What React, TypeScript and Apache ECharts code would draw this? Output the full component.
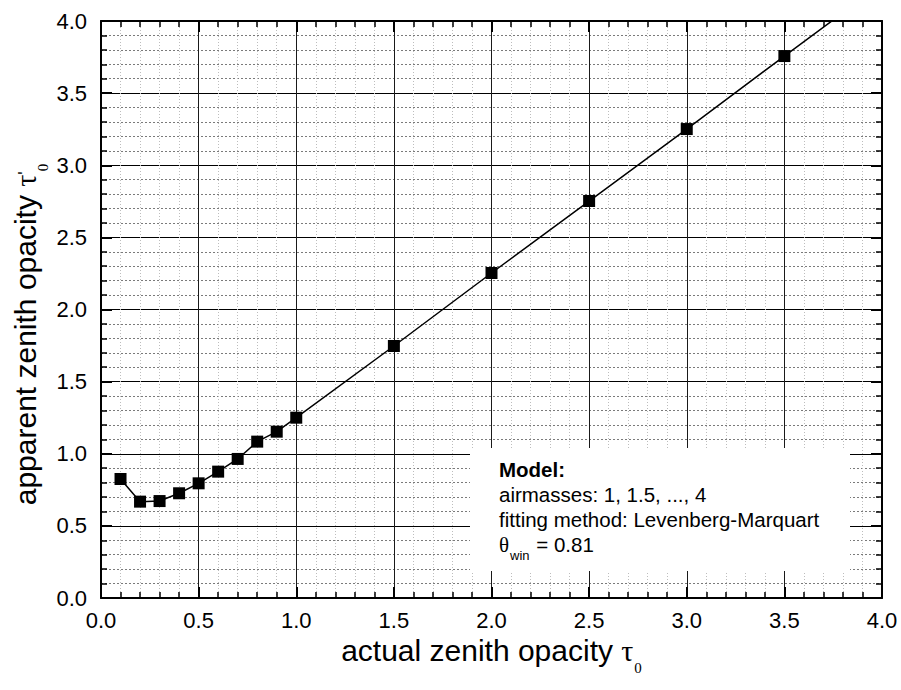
import React, { useEffect, useRef } from "react";
import * as echarts from "echarts";

// actual zenith opacity (x) and apparent zenith opacity (y)
const tauActual = [0.1, 0.2, 0.3, 0.4, 0.5, 0.6, 0.7, 0.8, 0.9, 1.0, 1.5, 2.0, 2.5, 3.0, 3.5];
const tauApparent = [0.825, 0.668, 0.672, 0.726, 0.795, 0.876, 0.964, 1.084, 1.153, 1.25, 1.747, 2.253, 2.752, 3.251, 3.757];
// model curve continues past the last point
const modelTailX = [4.0];
const modelTailY = [4.257];

const axisMin = 0;
const axisMax = 4;
const axisStep = 0.5;

const boxLines = ["Model:", "airmasses: 1, 1.5, ..., 4", "fitting method: Levenberg-Marquart"];
const thetaWinValue = "0.81";

const SANS = '"Liberation Sans", Arial, Helvetica, sans-serif';
const SERIF = '"Liberation Serif", "Times New Roman", serif';

function makeAxis(position: string, showLabel: boolean, extra: any = {}) {
  return {
    type: "value",
    min: axisMin,
    max: axisMax,
    interval: axisStep,
    position,
    axisLine: { show: true, onZero: false, lineStyle: { color: "#000", width: 2 } },
    axisTick: { show: true, inside: true, length: 11, lineStyle: { color: "#000", width: 2 } },
    minorTick: { show: true, splitNumber: 5, length: 6, lineStyle: { color: "#000", width: 1.5 } },
    axisLabel: {
      show: showLabel,
      color: "#000",
      fontFamily: SANS,
      fontSize: 22,
      formatter: (v: number) => v.toFixed(1),
    },
    splitLine: { show: false },
    minorSplitLine: { show: false },
    ...extra,
  };
}

export default function App() {
  const ref = useRef<HTMLDivElement>(null);

  useEffect(() => {
    if (!ref.current) return;
    const chart = echarts.init(ref.current, undefined, { renderer: "svg" });

    const points = tauActual.map((x, i) => [x, tauApparent[i]]);
    const model = points.concat(modelTailX.map((x, i) => [x, modelTailY[i]]));

    const option: any = {
      animation: false,
      backgroundColor: "#fff",
      grid: { left: 101, top: 21, right: 19, bottom: 92, containLabel: false, outerBoundsMode: "none" },
      xAxis: [
        makeAxis("bottom", true, {
          axisLabel: {
            show: true,
            color: "#000",
            fontFamily: SANS,
            fontSize: 22,
            margin: 11,
            formatter: (v: number) => v.toFixed(1),
          },
          splitLine: { show: true, lineStyle: { color: "#1a1a1a", width: 1 } },
          minorSplitLine: { show: true, lineStyle: { color: "#bdbdbd", width: 1, type: [1, 2] } },
          name: "actual zenith opacity {t|τ}{s|0}",
          nameLocation: "middle",
          nameGap: 37,
          nameMoveOverlap: false,
          nameTextStyle: {
            color: "#000",
            fontFamily: SANS,
            fontSize: 30,
            rich: {
              t: { fontFamily: SERIF, fontSize: 30, color: "#000" },
              s: { fontFamily: SERIF, fontSize: 15, color: "#000", padding: [36, 0, 0, 1], lineHeight: 30 },
            },
          },
        }),
        makeAxis("top", false),
      ],
      yAxis: [
        makeAxis("left", true, {
          axisLabel: {
            show: true,
            color: "#000",
            fontFamily: SANS,
            fontSize: 22,
            margin: 14,
            formatter: (v: number) => v.toFixed(1),
          },
          splitLine: { show: true, lineStyle: { color: "#000", width: 1 } },
          minorSplitLine: { show: true, lineStyle: { color: "#7a7a7a", width: 1, type: [2, 2] } },
          name: "apparent zenith opacity {t|τ}{p|'}{s|0}",
          nameLocation: "middle",
          nameGap: 61,
          nameMoveOverlap: false,
          nameRotate: 90,
          nameTextStyle: {
            color: "#000",
            fontFamily: SANS,
            fontSize: 30,
            padding: [0, 50, 0, 0],
            rich: {
              t: { fontFamily: SERIF, fontSize: 30, color: "#000" },
              p: { fontFamily: SANS, fontSize: 18, color: "#000" },
              s: { fontFamily: SERIF, fontSize: 15, color: "#000", padding: [36, 0, 0, 0], lineHeight: 30 },
            },
          },
        }),
        makeAxis("right", false),
      ],
      series: [
        {
          type: "line",
          data: model,
          showSymbol: false,
          symbol: "none",
          lineStyle: { color: "#000", width: 1.5 },
          clip: true,
          z: 3,
          silent: true,
        },
        {
          type: "scatter",
          data: points,
          symbol: "rect",
          symbolSize: 12,
          itemStyle: { color: "#000", opacity: 1 },
          z: 4,
        },
      ],
      graphic: [
        {
          type: "rect",
          z: 10,
          shape: { x: 470, y: 448, width: 380, height: 123 },
          style: { fill: "#fff" },
        },
        {
          type: "text",
          z: 11,
          x: 499,
          y: 457,
          style: {
            text:
              "{b|" + boxLines[0] + "}\n" +
              boxLines[1] + "\n" +
              boxLines[2] + "\n" +
              "{th|θ}{sub|win}{n| = " + thetaWinValue + "}",
            fill: "#000",
            fontFamily: SANS,
            fontSize: 20.5,
            lineHeight: 25,
            align: "left",
            verticalAlign: "top",
            rich: {
              b: { fontFamily: SANS, fontSize: 20.5, fontWeight: "bold", lineHeight: 25, fill: "#000" },
              th: { fontFamily: SERIF, fontSize: 21, lineHeight: 25, fill: "#000" },
              sub: { fontFamily: SANS, fontSize: 13, lineHeight: 25, padding: [22, 1, 0, 1], fill: "#000" },
              n: { fontFamily: SANS, fontSize: 20.5, lineHeight: 25, fill: "#000" },
            },
          },
        },
      ],
    };

    chart.setOption(option);
    return () => chart.dispose();
  }, []);

  return (
    <div
      ref={ref}
      style={{ position: "fixed", left: 0, top: 0, width: 901, height: 690, background: "#fff" }}
    />
  );
}
